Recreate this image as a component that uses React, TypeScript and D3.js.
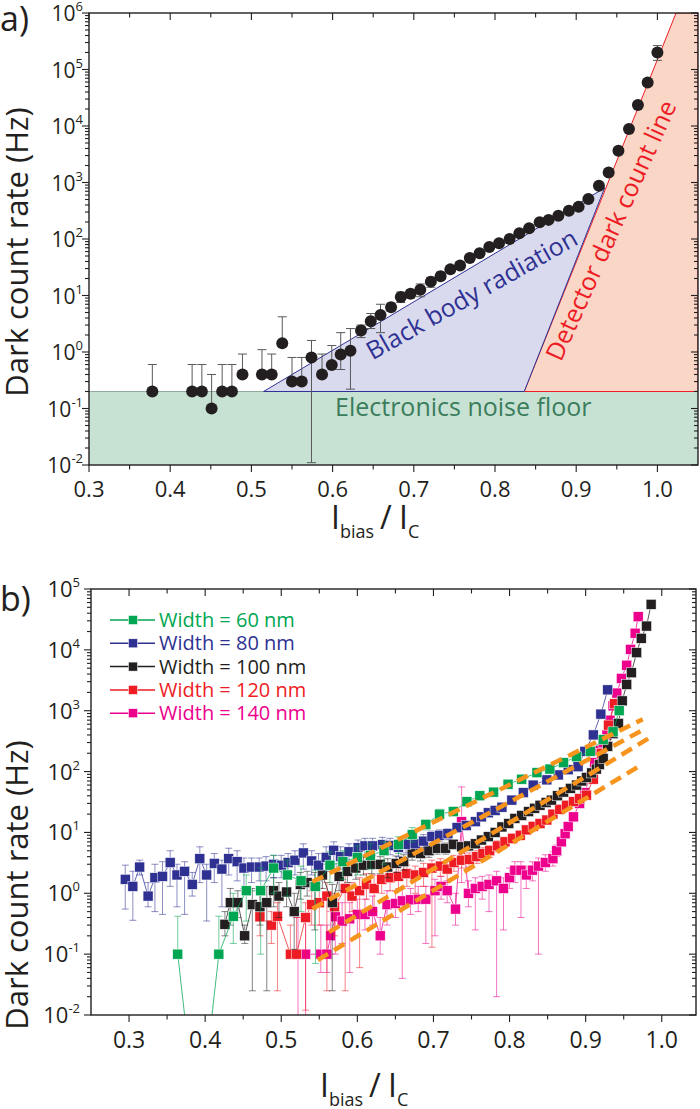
import React from 'react';
import * as d3 from 'd3';

const FONT = "'Open Sans', 'Noto Sans', sans-serif";
const INK = '#231f20';

// ---------- panel a: dark counts vs normalised bias ----------
const aBias = [0.378, 0.427, 0.439, 0.451, 0.464, 0.476, 0.489, 0.513, 0.525, 0.538, 0.55, 0.562, 0.574, 0.587, 0.599, 0.61, 0.622, 0.635, 0.647, 0.659, 0.672, 0.684, 0.696, 0.708, 0.721, 0.733, 0.745, 0.757, 0.769, 0.781, 0.793, 0.805, 0.818, 0.83, 0.842, 0.855, 0.866, 0.878, 0.891, 0.903, 0.915, 0.928, 0.94, 0.952, 0.965, 0.976, 0.988, 1.0];
const aRate = [0.2, 0.2, 0.2, 0.1, 0.2, 0.2, 0.4, 0.4, 0.4, 1.43, 0.3, 0.3, 0.8, 0.4, 0.59, 0.9, 1.05, 2.4, 3.5, 4.5, 6.2, 9.4, 10.7, 12.6, 17.6, 22, 29, 34, 46, 56, 72, 84, 100, 126, 155, 198, 218, 259, 317, 372, 510, 875, 1500, 3660, 8870, 23500, 59000, 200000];
const aUpper = [0.6, 0.6, 0.6, 0.4, 0.6, 0.6, 0.92, 1.1, 0.92, 4.2, 0.8, 0.8, 1.6, 0.92, 1.3, 2.2, 2.6, 3.0, 4.8, 7.0, 7.3, 11.5, 12.5, 16, 21, 26, 34, 38, 50, 60, 76, 88, 105, 131, 160, 204, 224, 266, 325, 380, 520, 890, 1530, 3730, 9050, 24000, 62000, 265000];
const aLower = [0.2, 0.2, 0.2, 0.1, 0.2, 0.2, 0.4, 0.4, 0.4, 1.43, 0.3, 0.3, 0.011, 0.4, 0.59, 0.49, 0.22, 1.8, 2.6, 2.2, 5.3, 7.5, 9, 9.5, 14, 19, 25, 31, 42, 52, 68, 80, 95, 121, 150, 192, 212, 252, 309, 364, 500, 860, 1470, 3590, 8700, 23000, 56000, 145000];

const noiseFloor = 0.2;
const bbBias = [0.515, 0.935, 0.836];
const bbRate = [0.2, 800, 0.2];
const dcBias = [0.836, 1.023, 1.05, 1.05];
const dcRate = [0.2, 1e6, 1e6, 0.2];

const aTicks = [0.3, 0.4, 0.5, 0.6, 0.7, 0.8, 0.9, 1.0];
const aMinor = [0.35, 0.45, 0.55, 0.65, 0.75, 0.85, 0.95];
const aExps = [-2, -1, 0, 1, 2, 3, 4, 5, 6];

// ---------- panel b: five detector widths ----------
const w60Bias = [0.364, 0.382, 0.4, 0.418, 0.437, 0.454, 0.473, 0.49, 0.508, 0.526, 0.545, 0.564, 0.581, 0.6, 0.617, 0.635, 0.654, 0.672, 0.69, 0.708, 0.726, 0.744, 0.761, 0.779, 0.798, 0.816, 0.836, 0.853, 0.871, 0.888, 0.906, 0.923, 0.936, 0.944];
const w60Rate = [0.1, 0.001, 0.001, 0.1, 0.42, 1.1, 1.1, 2.6, 2.0, 1.6, 1.3, 2.9, 3.3, 3.9, 4.2, 5.0, 6.3, 9.2, 13.5, 20, 22, 32, 40, 46, 62, 75, 96, 110, 140, 175, 215, 335, 450, 1000];
const w60Lo = [0.1, 0.001, 0.001, 0.1, 0.15, 0.35, 0.1, 1.0, 0.9, 0.5, 0.07, 1.5, 1.7, 2.0, 2.5, 3.0, 4.5, 7.0, 11, 17, 19, 28, 35, 41, 56, 68, 88, 100, 128, 160, 200, 310, 420, 900];
const w60Hi = [0.42, 0.001, 0.001, 0.42, 1.0, 2.0, 2.6, 4.2, 3.5, 2.8, 2.4, 4.8, 5.0, 6.0, 6.5, 7.0, 8.5, 12, 16, 24, 26, 36, 46, 52, 68, 82, 104, 120, 152, 190, 230, 360, 480, 1100];

const w80Bias = [0.295, 0.305, 0.314, 0.325, 0.334, 0.344, 0.354, 0.363, 0.373, 0.383, 0.393, 0.402, 0.412, 0.422, 0.431, 0.442, 0.451, 0.461, 0.471, 0.48, 0.49, 0.5, 0.509, 0.518, 0.529, 0.54, 0.549, 0.559, 0.569, 0.578, 0.589, 0.601, 0.61, 0.62, 0.633, 0.643, 0.654, 0.664, 0.676, 0.687, 0.698, 0.708, 0.719, 0.731, 0.743, 0.755, 0.763, 0.772, 0.781, 0.79, 0.803, 0.818, 0.831, 0.849, 0.864, 0.877, 0.89, 0.899, 0.91, 0.92, 0.929];
const w80Rate = [1.7, 1.3, 2.7, 0.9, 1.8, 1.9, 3.2, 2.0, 2.3, 1.4, 3.7, 2.0, 3.1, 2.5, 3.7, 3.3, 2.6, 2.7, 2.7, 2.8, 3.0, 2.9, 3.2, 3.5, 4.6, 3.4, 2.9, 3.9, 5.1, 4.0, 4.8, 5.6, 6.0, 6.0, 6.3, 6.1, 5.7, 6.4, 6.5, 7.2, 8.5, 9.0, 9.5, 12, 13, 15, 18, 21, 23, 26, 34, 45, 60, 73, 88, 107, 120, 215, 400, 880, 2200];
const w80Lo = [0.55, 0.36, 2.0, 0.6, 0.5, 0.45, 1.3, 0.6, 0.45, 0.9, 1.5, 0.35, 1.5, 0.6, 2.0, 1.6, 1.2, 1.5, 1.6, 1.6, 1.8, 1.8, 1.8, 2.0, 2.5, 2.0, 1.6, 2.3, 3.0, 2.5, 3.0, 3.8, 4.2, 4.2, 4.5, 4.3, 4.0, 4.6, 4.8, 5.5, 6.5, 7.2, 7.6, 10, 11, 13, 16, 19, 21, 24, 31, 42, 56, 68, 83, 101, 113, 205, 385, 850, 2100];
const w80Hi = [2.9, 2.3, 3.5, 1.5, 3.0, 3.3, 5.0, 3.0, 3.3, 2.2, 5.8, 3.0, 4.5, 3.5, 5.5, 5.0, 3.8, 3.8, 3.8, 4.0, 4.2, 4.2, 4.5, 5.0, 6.5, 5.0, 4.5, 5.8, 7.0, 5.8, 6.5, 7.5, 8.0, 8.0, 8.3, 8.0, 7.5, 8.4, 8.5, 9.2, 10.5, 11, 11.5, 14, 15, 17, 20, 23, 25, 28, 37, 48, 64, 78, 93, 113, 127, 225, 415, 910, 2300];

const w100Bias = [0.426, 0.433, 0.443, 0.452, 0.462, 0.472, 0.481, 0.49, 0.497, 0.507, 0.517, 0.525, 0.534, 0.544, 0.554, 0.567, 0.576, 0.587, 0.598, 0.608, 0.619, 0.63, 0.64, 0.651, 0.661, 0.672, 0.683, 0.694, 0.705, 0.716, 0.726, 0.737, 0.746, 0.755, 0.763, 0.772, 0.781, 0.79, 0.799, 0.807, 0.816, 0.825, 0.833, 0.84, 0.848, 0.855, 0.863, 0.871, 0.88, 0.888, 0.895, 0.901, 0.908, 0.914, 0.918, 0.923, 0.929, 0.936, 0.943, 0.948, 0.954, 0.96, 0.967, 0.973, 0.98, 0.986];
const w100Rate = [0.31, 0.7, 0.7, 0.2, 0.65, 0.6, 0.7, 1.1, 0.9, 1.05, 0.5, 1.4, 1.5, 1.3, 2.0, 0.7, 1.9, 2.3, 2.6, 2.9, 3.0, 3.0, 2.7, 3.1, 3.3, 4.6, 4.5, 5.0, 5.5, 5.5, 6.4, 5.8, 6.0, 6.5, 7.5, 8.5, 10, 12.3, 14, 17, 19, 22, 25, 28, 31, 34, 40, 46, 53, 60, 70, 80, 95, 110, 130, 165, 260, 420, 620, 1450, 2700, 4200, 9000, 15500, 24600, 56000];
const w100Lo = [0.2, 0.3, 0.4, 0.15, 0.025, 0.3, 0.025, 0.6, 0.4, 0.6, 0.12, 0.8, 0.9, 0.25, 1.2, 0.025, 1.1, 1.5, 1.7, 2.0, 2.1, 2.1, 1.8, 2.2, 2.4, 3.5, 3.4, 3.9, 4.4, 4.4, 5.3, 4.8, 5.0, 5.5, 6.5, 7.4, 8.8, 11, 12.5, 15.5, 17.5, 20, 23, 26, 29, 32, 37, 43, 50, 56, 66, 76, 90, 104, 124, 155, 245, 400, 590, 1380, 2600, 4000, 8600, 14800, 23500, 53000];
const w100Hi = [0.5, 1.2, 1.1, 0.3, 1.2, 1.0, 1.3, 1.8, 1.5, 1.7, 1.0, 2.2, 2.3, 2.2, 3.0, 1.4, 2.8, 3.3, 3.6, 3.9, 4.0, 4.0, 3.7, 4.1, 4.3, 5.8, 5.7, 6.2, 6.7, 6.7, 7.6, 6.9, 7.1, 7.6, 8.6, 9.7, 11.3, 13.7, 15.5, 18.6, 20.6, 24, 27, 30, 33, 36, 43, 49, 56, 64, 74, 84, 100, 116, 136, 175, 275, 440, 650, 1520, 2800, 4400, 9400, 16200, 25700, 59000];

const w120Bias = [0.472, 0.487, 0.495, 0.512, 0.52, 0.532, 0.54, 0.55, 0.56, 0.57, 0.584, 0.593, 0.603, 0.612, 0.622, 0.632, 0.643, 0.654, 0.665, 0.676, 0.687, 0.698, 0.709, 0.718, 0.727, 0.737, 0.747, 0.757, 0.765, 0.774, 0.784, 0.794, 0.804, 0.814, 0.822, 0.831, 0.84, 0.849, 0.857, 0.866, 0.875, 0.884, 0.892, 0.901, 0.91, 0.921, 0.93, 0.938];
const w120Rate = [0.41, 0.3, 0.42, 0.1, 0.1, 0.4, 0.65, 0.7, 0.9, 0.6, 1.2, 0.9, 1.1, 1.4, 1.2, 1.7, 1.8, 1.9, 2.1, 2.0, 2.2, 2.6, 2.8, 2.5, 3.2, 3.5, 3.6, 4.0, 4.5, 5.0, 6.0, 7.0, 8.0, 9.0, 11, 12.6, 14, 16, 20, 24, 28, 32, 36, 41, 75, 200, 580, 1300];
const w120Lo = [0.2, 0.15, 0.025, 0.1, 0.1, 0.012, 0.3, 0.3, 0.025, 0.2, 0.025, 0.5, 0.06, 0.8, 0.5, 1.0, 1.1, 1.2, 1.3, 1.0, 1.3, 0.13, 1.9, 1.5, 2.3, 2.6, 2.7, 3.1, 3.5, 3.9, 4.8, 5.8, 6.6, 7.6, 9.5, 11, 12.3, 14.2, 18, 22, 26, 29.5, 33.5, 38, 70, 190, 560, 1250];
const w120Hi = [0.7, 0.5, 0.7, 0.3, 0.4, 0.7, 1.1, 1.2, 1.5, 1.0, 1.9, 1.5, 1.8, 2.1, 2.0, 2.5, 2.6, 2.7, 2.9, 2.8, 3.1, 3.5, 3.7, 3.5, 4.2, 4.5, 4.6, 5.0, 5.6, 6.1, 7.3, 8.3, 9.5, 10.6, 12.6, 14.3, 15.8, 18, 22, 26, 30.5, 34.5, 38.5, 44, 80, 210, 600, 1350];

const w140Bias = [0.522, 0.532, 0.552, 0.56, 0.565, 0.571, 0.58, 0.59, 0.6, 0.61, 0.62, 0.63, 0.639, 0.65, 0.659, 0.67, 0.68, 0.69, 0.702, 0.71, 0.718, 0.729, 0.737, 0.746, 0.755, 0.764, 0.773, 0.783, 0.792, 0.8, 0.807, 0.815, 0.822, 0.83, 0.838, 0.847, 0.857, 0.862, 0.868, 0.873, 0.877, 0.884, 0.892, 0.899, 0.905, 0.912, 0.918, 0.923, 0.928, 0.932, 0.936, 0.941, 0.947, 0.954, 0.959, 0.965, 0.969];
const w140Rate = [0.1, 0.1, 0.1, 0.1, 0.2, 0.41, 0.35, 0.38, 0.45, 0.45, 0.5, 0.2, 0.65, 0.68, 0.75, 0.78, 0.8, 0.8, 1.1, 1.3, 1.1, 0.55, 15, 1.0, 1.2, 1.3, 1.4, 1.6, 1.2, 1.8, 2.4, 2.4, 2.0, 2.4, 2.8, 3.2, 3.7, 5, 7, 9.5, 12.5, 18, 30, 45, 80, 140, 220, 300, 400, 700, 1200, 1950, 3400, 5600, 10200, 18800, 35000];
const w140Lo = [0.005, 0.005, 0.05, 0.05, 0.1, 0.1, 0.15, 0.05, 0.2, 0.25, 0.3, 0.1, 0.3, 0.4, 0.04, 0.45, 0.5, 0.15, 0.2, 0.8, 0.7, 0.3, 1.5, 0.6, 0.25, 0.8, 0.5, 0.02, 0.25, 1.2, 1.5, 0.4, 1.2, 1.6, 0.1, 2.3, 2.8, 4, 6, 8.5, 11, 16, 27, 41, 74, 130, 205, 285, 380, 670, 1150, 1880, 3300, 5400, 9900, 18200, 34000];
const w140Hi = [0.4, 0.4, 0.3, 0.3, 0.5, 0.8, 0.7, 0.7, 0.8, 0.8, 0.9, 0.4, 1.1, 1.1, 1.2, 1.2, 1.3, 1.3, 1.7, 1.9, 1.6, 1.0, 56, 1.6, 1.8, 1.9, 2.0, 2.3, 1.8, 2.6, 3.3, 3.3, 2.8, 3.3, 3.8, 4.3, 4.8, 6.2, 8.5, 11, 14.5, 20.5, 33, 49, 86, 150, 235, 315, 420, 730, 1250, 2020, 3500, 5800, 10500, 19400, 36000];

const widthLabels = ['Width = 60 nm', 'Width = 80 nm', 'Width = 100 nm', 'Width = 120 nm', 'Width = 140 nm'];
const widthColors = ['#00a651', '#2e3192', '#231f20', '#ed1c24', '#ec008c'];

// orange fitted lines: [start, end] in bias and rate
const fitBias = [[0.541, 0.975], [0.541, 0.972], [0.563, 0.988], [0.548, 0.975]];
const fitRate = [[1.55, 724], [0.56, 460], [0.23, 385], [0.08, 133]];

const bTicks = [0.3, 0.4, 0.5, 0.6, 0.7, 0.8, 0.9, 1.0];
const bMinor = [0.35, 0.45, 0.55, 0.65, 0.75, 0.85, 0.95];
const bExps = [-2, -1, 0, 1, 2, 3, 4, 5];

type Box = { l: number; r: number; t: number; b: number };

function Axes({ x, y, box, ticks, minor, exps, tickBase, labRight, fs }: any) {
  const marks: any[] = [];
  ticks.forEach((v: number, i: number) => {
    const px = x(v);
    marks.push(<line key={'xb' + i} x1={px} x2={px} y1={box.b} y2={box.b + 7} />);
    marks.push(<line key={'xt' + i} x1={px} x2={px} y1={box.t} y2={box.t + 7} />);
  });
  minor.forEach((v: number, i: number) => {
    const px = x(v);
    marks.push(<line key={'mb' + i} x1={px} x2={px} y1={box.b} y2={box.b + 4.5} />);
    marks.push(<line key={'mt' + i} x1={px} x2={px} y1={box.t} y2={box.t + 4.5} />);
  });
  exps.forEach((e: number, i: number) => {
    const py = y(Math.pow(10, e));
    marks.push(<line key={'yl' + i} x1={box.l - 7} x2={box.l} y1={py} y2={py} />);
    marks.push(<line key={'yr' + i} x1={box.r - 7} x2={box.r} y1={py} y2={py} />);
    if (i < exps.length - 1) {
      for (let m = 2; m < 10; m++) {
        const pm = y(m * Math.pow(10, e));
        marks.push(<line key={'ml' + i + m} x1={box.l - 4} x2={box.l} y1={pm} y2={pm} />);
        marks.push(<line key={'mr' + i + m} x1={box.r - 4} x2={box.r} y1={pm} y2={pm} />);
      }
    }
  });
  return (
    <g>
      <g stroke={INK} strokeWidth={1.1}>{marks}</g>
      <rect x={box.l} y={box.t} width={box.r - box.l} height={box.b - box.t} fill="none" stroke={INK} strokeWidth={1.4} />
      <g fill={INK} fontSize={fs} textAnchor="middle">
        {ticks.map((v: number) => (
          <text key={v} x={x(v)} y={tickBase}>{d3.format('.1f')(v)}</text>
        ))}
      </g>
      <g fill={INK} fontSize={fs - 1} textAnchor="end">
        {exps.map((e: number) => (
          <text key={e} x={labRight} y={y(Math.pow(10, e)) + 8}>
            10<tspan fontSize={13} dy={-10}>{e}</tspan>
          </text>
        ))}
      </g>
    </g>
  );
}

function XTitle({ x0, base }: { x0: number; base: number }) {
  return (
    <g fill={INK}>
      <text x={x0} y={base} fontSize={32}>I</text>
      <text x={x0 + 9} y={base + 9} fontSize={18}>bias</text>
      <text x={x0 + 49} y={base} fontSize={32}>/</text>
      <text x={x0 + 68} y={base} fontSize={32}>I</text>
      <text x={x0 + 77} y={base + 9} fontSize={18}>C</text>
    </g>
  );
}

function App() {
  const boxA: Box = { l: 89, r: 698, t: 13, b: 465 };
  const boxB: Box = { l: 91, r: 696, t: 589, b: 1015 };

  const xA = d3.scaleLinear().domain([0.3, 1.05]).range([boxA.l, boxA.r]);
  const yA = d3.scaleLog().domain([1e-2, 1e6]).range([boxA.b, boxA.t]);
  const xB = d3.scaleLinear().domain([0.25, 1.045]).range([boxB.l, boxB.r]);
  const yB = d3.scaleLog().domain([1e-2, 1e5]).range([boxB.b, boxB.t]);

  const poly = (bs: number[], rs: number[]) =>
    bs.map((b, i) => `${xA(b)},${yA(rs[i])}`).join(' ');

  const series = [
    { bias: w60Bias, rate: w60Rate, lo: w60Lo, hi: w60Hi },
    { bias: w80Bias, rate: w80Rate, lo: w80Lo, hi: w80Hi },
    { bias: w100Bias, rate: w100Rate, lo: w100Lo, hi: w100Hi },
    { bias: w120Bias, rate: w120Rate, lo: w120Lo, hi: w120Hi },
    { bias: w140Bias, rate: w140Rate, lo: w140Lo, hi: w140Hi },
  ];
  const drawOrder = [4, 3, 2, 1, 0];

  const sq = 10;

  return (
    <svg width={700} height={1109} style={{ position: 'absolute', left: 0, top: 0, fontFamily: FONT }}>
      <rect width={700} height={1109} fill="#fff" />
      <defs>
        <clipPath id="clipA">
          <rect x={boxA.l} y={boxA.t} width={boxA.r - boxA.l} height={boxA.b - boxA.t} />
        </clipPath>
        <clipPath id="clipB">
          <rect x={boxB.l} y={boxB.t} width={boxB.r - boxB.l} height={boxB.b - boxB.t} />
        </clipPath>
      </defs>

      {/* ---------- a) ---------- */}
      <text x={0} y={31} fontSize={34} fill={INK}>a)</text>
      <g clipPath="url(#clipA)">
        <rect x={boxA.l} y={yA(noiseFloor)} width={boxA.r - boxA.l} height={boxA.b - yA(noiseFloor)} fill="#c7e2d3" />
        <line x1={boxA.l} x2={boxA.r} y1={yA(noiseFloor)} y2={yA(noiseFloor)} stroke="#8fa99a" strokeWidth={1} />
        <polygon points={poly(dcBias, dcRate)} fill="#f9d6c6" stroke="#ed1c24" strokeWidth={1} />
        <polygon points={poly(bbBias, bbRate)} fill="#dadaee" stroke="#2e3192" strokeWidth={1} />
        <g stroke="#58595b" strokeWidth={1}>
          {aBias.map((b, i) => {
            const px = xA(b);
            return (
              <g key={i}>
                <line x1={px} x2={px} y1={yA(aLower[i])} y2={yA(aUpper[i])} />
                <line x1={px - 4.5} x2={px + 4.5} y1={yA(aUpper[i])} y2={yA(aUpper[i])} />
                <line x1={px - 4.5} x2={px + 4.5} y1={yA(aLower[i])} y2={yA(aLower[i])} />
              </g>
            );
          })}
        </g>
        {aBias.map((b, i) => (
          <circle key={i} cx={xA(b)} cy={yA(aRate[i])} r={6} fill={INK} />
        ))}
      </g>
      <text x={335} y={416} fontSize={25} fill="#3b7d5c">Electronics noise floor</text>
      <text transform="translate(476,302) rotate(-29.5)" textAnchor="middle" fontSize={25} fill="#2e3192">Black body radiation</text>
      <text transform="translate(619,234) rotate(-65.7)" textAnchor="middle" fontSize={25} fill="#ed1c24">Detector dark count line</text>
      <Axes x={xA} y={yA} box={boxA} ticks={aTicks} minor={aMinor} exps={aExps} tickBase={497} labRight={83} fs={22} />
      <text transform="translate(28,252) rotate(-90)" textAnchor="middle" fontSize={31} fill={INK}>Dark count rate (Hz)</text>
      <XTitle x0={331} base={529} />

      {/* ---------- b) ---------- */}
      <text x={0} y={611} fontSize={34} fill={INK}>b)</text>
      <g clipPath="url(#clipB)">
        {drawOrder.map((k) => {
          const s = series[k];
          const c = widthColors[k];
          const line = d3
            .line<number>()
            .x((_, i) => xB(s.bias[i]))
            .y((v) => yB(v));
          return (
            <g key={k}>
              <path d={line(s.rate) || ''} fill="none" stroke={c} strokeWidth={1} strokeOpacity={0.75} />
              <g stroke={c} strokeWidth={1} strokeOpacity={0.55}>
                {s.bias.map((b, i) => {
                  const px = xB(b);
                  return (
                    <g key={i}>
                      <line x1={px} x2={px} y1={yB(s.lo[i])} y2={yB(s.hi[i])} />
                      <line x1={px - 3.5} x2={px + 3.5} y1={yB(s.hi[i])} y2={yB(s.hi[i])} />
                      <line x1={px - 3.5} x2={px + 3.5} y1={yB(s.lo[i])} y2={yB(s.lo[i])} />
                    </g>
                  );
                })}
              </g>
              {s.bias.map((b, i) => (
                <rect key={i} x={xB(b) - sq / 2} y={yB(s.rate[i]) - sq / 2} width={sq} height={sq} fill={c} stroke="#fff" strokeWidth={0.5} />
              ))}
            </g>
          );
        })}
        <g stroke="#f7941d" strokeWidth={4.5} strokeDasharray="12,7" fill="none">
          {fitBias.map((fb, i) => (
            <line key={i} x1={xB(fb[0])} y1={yB(fitRate[i][0])} x2={xB(fb[1])} y2={yB(fitRate[i][1])} />
          ))}
        </g>
      </g>
      <Axes x={xB} y={yB} box={boxB} ticks={bTicks} minor={bMinor} exps={bExps} tickBase={1048} labRight={80} fs={23} />
      {widthLabels.map((lab, i) => {
        const cy = 620 + i * 23.3;
        return (
          <g key={lab}>
            <line x1={110} x2={155} y1={cy} y2={cy} stroke={widthColors[i]} strokeWidth={1.5} />
            <rect x={133 - 4.5} y={cy - 4.5} width={9} height={9} fill={widthColors[i]} stroke="#fff" strokeWidth={0.5} />
            <text x={159} y={cy + 7} fontSize={20} fill={widthColors[i]}>{lab}</text>
          </g>
        );
      })}
      <text transform="translate(28,885) rotate(-90)" textAnchor="middle" fontSize={31} fill={INK}>Dark count rate (Hz)</text>
      <XTitle x0={320} base={1097} />
    </svg>
  );
}

export default App;
